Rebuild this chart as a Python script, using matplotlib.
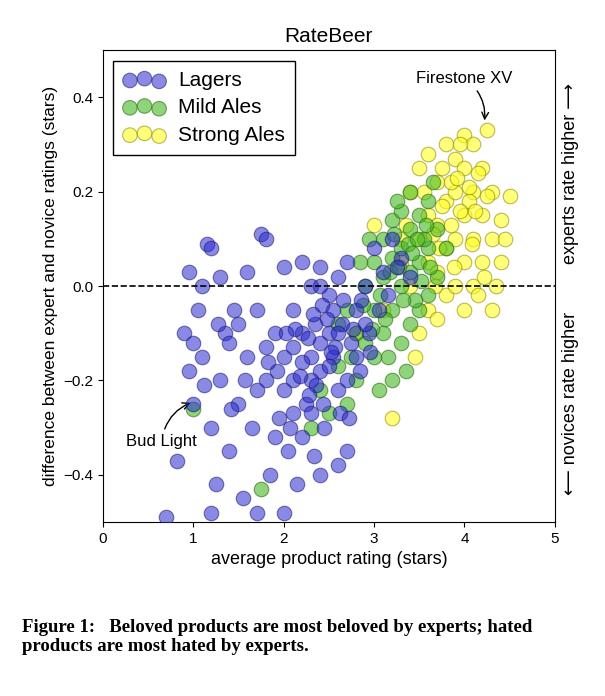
import matplotlib
matplotlib.use("Agg")
import matplotlib.pyplot as plt

plt.rcParams["font.family"] = ["Liberation Sans", "DejaVu Sans"]

# hand-estimated points (average rating, expert - novice difference)
lager_x = [0.7, 0.82, 0.9, 0.95, 1.0, 1.05, 1.1, 1.15, 1.2, 1.2, 1.25, 1.3, 1.35, 1.4, 1.45, 1.5, 1.55, 1.6,
           1.65, 1.7, 1.75, 1.8, 1.8, 1.85, 1.9, 1.95, 2.0, 2.0, 2.05, 2.1, 2.1, 2.15, 2.2, 2.2, 2.25, 2.3, 2.3,
           2.35, 2.4, 2.4, 2.45, 2.5, 2.5, 2.55, 2.6, 2.6, 2.65, 2.7, 2.7, 2.75, 2.8, 2.85, 2.9, 2.95, 3.0, 3.05,
           3.1, 3.2, 3.3, 3.4, 1.0, 1.1, 1.3, 1.5, 1.6, 1.9, 2.0, 2.2, 2.4, 2.6, 2.3, 2.0, 1.7, 2.1, 2.3, 2.5,
           2.7, 2.2, 2.4, 2.6, 2.8, 2.9, 2.1, 1.8, 1.4, 0.95, 1.2, 1.7, 2.4, 2.55,
           2.13, 2.27, 2.36, 2.48, 2.57, 2.66, 2.18, 2.32, 2.44, 2.52, 2.03, 1.93, 2.77, 2.62, 2.42, 2.28,
           1.57, 1.42, 1.27, 1.12, 1.83, 2.07, 2.34, 2.72, 3.15, 3.25, 2.96, 2.86]
lager_y = [-0.49, -0.37, -0.1, -0.18, -0.25, -0.05, -0.15, 0.09, 0.08, -0.3, -0.42, -0.2, -0.1, -0.35, -0.05,
           -0.25, -0.45, -0.15, -0.3, -0.05, 0.11, 0.1, -0.2, -0.4, -0.1, -0.28, 0.04, -0.15, -0.35, -0.2,
           -0.05, -0.42, 0.05, -0.1, -0.25, -0.15, 0.0, -0.08, -0.18, 0.04, -0.3, -0.1, -0.02, -0.15, 0.02,
           -0.22, -0.08, -0.35, 0.05, -0.12, -0.05, -0.18, 0.0, -0.1, 0.08, -0.05, 0.03, 0.1, 0.06, 0.02,
           -0.12, 0.0, 0.02, -0.08, 0.03, -0.32, -0.48, -0.32, -0.4, -0.38, -0.27, -0.22, -0.22, -0.13, -0.2,
           -0.17, -0.2, -0.16, -0.12, -0.1, -0.15, -0.08, -0.27, -0.13, -0.12, 0.03, -0.48, -0.48, 0.0, -0.05,
           -0.09, -0.11, -0.21, -0.07, -0.13, -0.03, -0.19, -0.06, -0.25, -0.14, -0.1, -0.18, -0.09, -0.27,
           -0.04, -0.23, -0.2, -0.26, -0.08, -0.21, -0.16, -0.3, -0.36, -0.28, -0.02, 0.04, -0.14, -0.03]

mild_x = [2.3, 2.4, 2.5, 2.6, 2.7, 2.8, 2.8, 2.9, 2.9, 3.0, 3.0, 3.0, 3.1, 3.1, 3.1, 3.2, 3.2, 3.2, 3.2, 3.3,
          3.3, 3.3, 3.3, 3.4, 3.4, 3.4, 3.4, 3.5, 3.5, 3.5, 3.6, 3.6, 3.6, 3.7, 3.7, 3.8, 2.7, 2.6, 2.85, 3.05,
          2.75, 1.0, 1.75, 3.15, 3.35, 3.45, 3.55, 3.25, 2.95, 3.65,
          3.07, 3.18, 3.28, 3.38, 3.48, 3.58, 3.12, 3.22, 3.42, 3.52, 2.98, 2.88, 3.32, 3.62]
mild_y = [-0.3, -0.22, -0.27, -0.17, -0.25, -0.2, -0.1, -0.12, 0.0, -0.15, -0.05, 0.05, -0.1, 0.02, 0.1, -0.2,
          -0.05, 0.06, 0.14, -0.12, 0.0, 0.08, 0.16, -0.08, 0.03, 0.12, 0.2, -0.05, 0.05, 0.15, -0.02, 0.08,
          0.18, 0.02, 0.12, 0.08, -0.05, -0.08, 0.05, -0.22, -0.15, -0.26, -0.43, -0.15, -0.18, -0.03, 0.1,
          0.18, 0.1, 0.22,
          -0.02, 0.03, 0.04, 0.09, 0.1, 0.13, -0.07, 0.11, 0.07, 0.01, -0.09, -0.04, -0.03, 0.04]

strong_x = [2.8, 3.0, 3.2, 3.1, 3.3, 3.4, 3.4, 3.5, 3.5, 3.5, 3.6, 3.6, 3.6, 3.6, 3.7, 3.7, 3.7, 3.7, 3.8, 3.8,
            3.8, 3.8, 3.9, 3.9, 3.9, 3.9, 4.0, 4.0, 4.0, 4.0, 4.0, 4.1, 4.1, 4.1, 4.1, 4.2, 4.2, 4.2, 4.25, 4.3,
            4.3, 4.3, 4.4, 4.4, 4.5, 4.35, 3.95, 3.85, 3.3, 3.45, 4.15, 4.05, 3.75, 3.55, 4.45, 3.35,
            3.65, 3.75, 3.85, 3.95, 4.05, 4.15, 4.25, 3.68, 3.88, 4.08, 4.22, 3.92, 4.12, 3.72]
strong_y = [-0.1, 0.13, -0.28, -0.05, 0.1, 0.0, 0.2, -0.1, 0.1, 0.25, -0.05, 0.05, 0.15, 0.28, -0.07, 0.03,
            0.13, 0.22, -0.02, 0.08, 0.18, 0.3, 0.0, 0.1, 0.2, 0.27, -0.05, 0.05, 0.15, 0.25, 0.32, 0.0, 0.1,
            0.2, 0.3, 0.05, 0.15, 0.25, 0.33, -0.05, 0.1, 0.2, 0.05, 0.14, 0.19, 0.0, 0.3, 0.22, 0.05, -0.15,
            -0.02, 0.18, 0.25, 0.2, 0.1, 0.13,
            0.11, 0.17, 0.13, 0.16, 0.21, 0.24, 0.19, 0.0, 0.04, 0.09, 0.02, 0.23, 0.16, 0.08]

fig = plt.figure(figsize=(6.05, 6.96), dpi=100)
ax = fig.add_axes([0.170, 0.250, 0.747, 0.678])

ax.scatter(strong_x, strong_y, s=110, c="#ffff22", edgecolors="#8a8a00", alpha=0.6, linewidths=0.8,
           label="Strong Ales", zorder=2)
ax.scatter(mild_x, mild_y, s=110, c="#44b822", edgecolors="#2a6a10", alpha=0.6, linewidths=0.8,
           label="Mild Ales", zorder=3)
ax.scatter(lager_x, lager_y, s=110, c="#2a2ad0", edgecolors="#15156a", alpha=0.55, linewidths=0.8,
           label="Lagers", zorder=4)

ax.axhline(0, color="black", linestyle="--", linewidth=1.2, zorder=5)
ax.set_xlim(0, 5)
ax.set_ylim(-0.5, 0.5)
ax.set_xticks([0, 1, 2, 3, 4, 5])
ax.set_yticks([-0.4, -0.2, 0.0, 0.2, 0.4])
ax.set_yticklabels(["\u22120.4", "\u22120.2", "0.0", "0.2", "0.4"])
ax.tick_params(labelsize=11)
ax.set_xlabel("average product rating (stars)", fontsize=13)
ax.set_ylabel("difference between expert and novice ratings (stars)", fontsize=12.5)
ax.set_title("RateBeer", fontsize=15)

h, l = ax.get_legend_handles_labels()
ax.legend(h[::-1], l[::-1], loc="upper left", scatterpoints=3, fontsize=15, fancybox=False,
          edgecolor="black", framealpha=1, handletextpad=0.6, borderpad=0.5, labelspacing=0.4)

ax.annotate("Firestone XV", xy=(4.22, 0.345), xytext=(4.0, 0.44), fontsize=12, ha="center", va="center",
            arrowprops=dict(arrowstyle="->", connectionstyle="arc3,rad=-0.3", color="black"))
ax.annotate("Bud Light", xy=(1.0, -0.245), xytext=(0.65, -0.33), fontsize=12, ha="center", va="center",
            arrowprops=dict(arrowstyle="->", connectionstyle="arc3,rad=-0.3", color="black"))

fig.text(0.943, 0.75, "experts rate higher \u27f6", rotation=90, fontsize=13, ha="center", va="center")
fig.text(0.943, 0.42, "\u27f5 novices rate higher", rotation=90, fontsize=13, ha="center", va="center")

fig.text(0.036, 0.085, "Figure 1:   Beloved products are most beloved by experts; hated\n"
         "products are most hated by experts.", fontsize=13.5, fontweight="bold",
         family="Liberation Serif", ha="left", va="center", linespacing=1.2)

fig.savefig("out.png", dpi=100)
